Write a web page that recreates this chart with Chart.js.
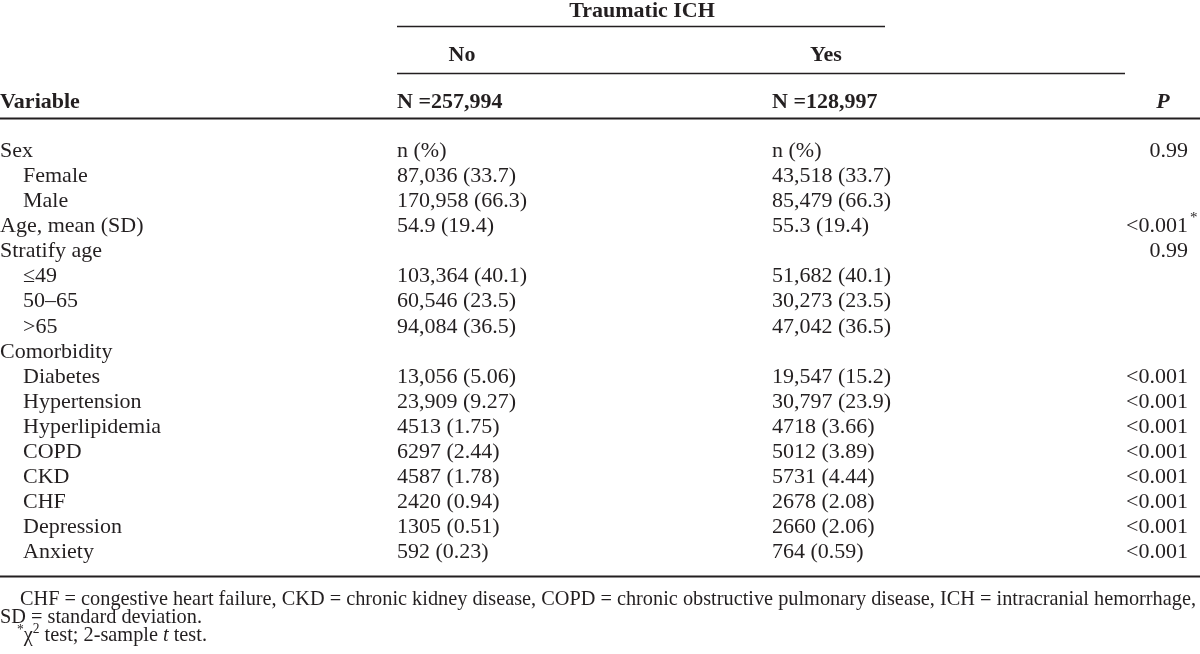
<!DOCTYPE html>
<html>
<head>
<meta charset="utf-8">
<script src="https://cdn.jsdelivr.net/npm/chart.js@4.4.1/dist/chart.umd.min.js"></script>
<style>
  html, body { margin: 0; padding: 0; background: #fff; }
  canvas { display: block; }
</style>
</head>
<body>
<canvas id="table" width="1200" height="654"></canvas>
<script>
// table content
const spanLabel = "Traumatic ICH";
const groupLabels = ["No", "Yes"];
const groupCounts = ["N =257,994", "N =128,997"];
const rowLabels = [
    "Sex", "Female", "Male", "Age, mean (SD)", "Stratify age", "≤49", "50–65", ">65",
    "Comorbidity", "Diabetes", "Hypertension", "Hyperlipidemia", "COPD", "CKD", "CHF",
    "Depression", "Anxiety"
];
const rowIndent = [0, 1, 1, 0, 0, 1, 1, 1, 0, 1, 1, 1, 1, 1, 1, 1, 1];
const noValues = [
    "n (%)", "87,036 (33.7)", "170,958 (66.3)", "54.9 (19.4)", "", "103,364 (40.1)",
    "60,546 (23.5)", "94,084 (36.5)", "", "13,056 (5.06)", "23,909 (9.27)", "4513 (1.75)",
    "6297 (2.44)", "4587 (1.78)", "2420 (0.94)", "1305 (0.51)", "592 (0.23)"
];
const yesValues = [
    "n (%)", "43,518 (33.7)", "85,479 (66.3)", "55.3 (19.4)", "", "51,682 (40.1)",
    "30,273 (23.5)", "47,042 (36.5)", "", "19,547 (15.2)", "30,797 (23.9)", "4718 (3.66)",
    "5012 (3.89)", "5731 (4.44)", "2678 (2.08)", "2660 (2.06)", "764 (0.59)"
];
const pValues = [
    "0.99", "", "", "<0.001", "0.99", "", "", "", "", "<0.001", "<0.001", "<0.001",
    "<0.001", "<0.001", "<0.001", "<0.001", "<0.001"
];
const pMarks = ["", "", "", "*", "", "", "", "", "", "", "", "", "", "", "", "", ""];
const footnotes = [
    "CHF = congestive heart failure, CKD = chronic kidney disease, COPD = chronic obstructive pulmonary disease, ICH = intracranial hemorrhage,",
    "SD = standard deviation."
];

// layout in scale units (x: column position, y: row index)
const COL = { label: 0, indent: 23, no: 397, yes: 772, pRight: 1188, pHead: 1163 };
const ROW = { span: -5.55, group: -3.82, count: -1.95, note1: 17.85, note2: 18.6, note3: 19.32 };
const RULES = [
    { from: 397, to: 885, at: -5.0, width: 1.5 },
    { from: 397, to: 1125, at: -3.12, width: 1.5 },
    { from: 0, to: 1200, at: -1.3, width: 2 },
    { from: 0, to: 1200, at: 16.92, width: 2 }
];

const SERIF = "'Liberation Serif', 'Times New Roman', serif";
const INK = "#231f20";
const SIZE = 22;

const tablePlugin = {
    id: "tableText",
    afterDraw(chart) {
        const ctx = chart.ctx;
        const x = chart.scales.x;
        const y = chart.scales.y;
        const px = (v) => x.getPixelForValue(v);
        const py = (v) => y.getPixelForValue(v);

        ctx.save();
        ctx.fillStyle = INK;
        ctx.strokeStyle = INK;
        ctx.textBaseline = "middle";

        // rules
        RULES.forEach((r) => {
            ctx.lineWidth = r.width;
            ctx.beginPath();
            ctx.moveTo(px(r.from), Math.round(py(r.at)) + 0.5);
            ctx.lineTo(px(r.to), Math.round(py(r.at)) + 0.5);
            ctx.stroke();
        });

        // header
        ctx.font = `bold ${SIZE}px ${SERIF}`;
        ctx.textAlign = "center";
        ctx.fillText(spanLabel, px(642), py(ROW.span));
        ctx.fillText(groupLabels[0], px(462), py(ROW.group));
        ctx.fillText(groupLabels[1], px(826), py(ROW.group));
        ctx.textAlign = "left";
        ctx.fillText("Variable", px(COL.label), py(ROW.count));
        ctx.fillText(groupCounts[0], px(COL.no), py(ROW.count));
        ctx.fillText(groupCounts[1], px(COL.yes), py(ROW.count));
        ctx.font = `italic bold ${SIZE}px ${SERIF}`;
        ctx.textAlign = "center";
        ctx.fillText("P", px(COL.pHead), py(ROW.count));

        // body
        const body = `${SIZE}px ${SERIF}`;
        ctx.font = body;
        rowLabels.forEach((label, i) => {
            const yy = py(i);
            ctx.textAlign = "left";
            ctx.fillText(label, px(rowIndent[i] ? COL.indent : COL.label), yy);
            ctx.fillText(noValues[i], px(COL.no), yy);
            ctx.fillText(yesValues[i], px(COL.yes), yy);
            ctx.textAlign = "right";
            ctx.fillText(pValues[i], px(COL.pRight), yy);
            if (pMarks[i]) {
                ctx.textAlign = "left";
                ctx.font = "15px " + SERIF;
                ctx.fillText(pMarks[i], px(COL.pRight) + 2, yy - 8);
                ctx.font = body;
            }
        });

        // footnotes, set condensed
        const base = "21px " + SERIF;
        const sup = "14px " + SERIF;
        ctx.font = base;
        ctx.textAlign = "left";
        const target = px(1196) - px(20);
        const sx = target / ctx.measureText(footnotes[0]).width;
        const line = (parts, x0, yv) => {
            ctx.save();
            ctx.translate(px(x0), py(yv));
            ctx.scale(sx, 1);
            let cx = 0;
            parts.forEach((p) => {
                ctx.font = p.font;
                ctx.fillText(p.text, cx, p.dy || 0);
                cx += ctx.measureText(p.text).width;
            });
            ctx.restore();
        };
        line([{ text: footnotes[0], font: base }], 20, ROW.note1);
        line([{ text: footnotes[1], font: base }], 0, ROW.note2);
        line([
            { text: "*", font: sup, dy: -6 },
            { text: "χ", font: base },
            { text: "2", font: sup, dy: -7 },
            { text: " test; 2-sample ", font: base },
            { text: "t", font: "italic 21px " + SERIF },
            { text: " test.", font: base }
        ], 17, ROW.note3);

        ctx.restore();
    }
};

new Chart(document.getElementById("table"), {
    type: "scatter",
    data: { datasets: [{ data: [], pointRadius: 0 }] },
    options: {
        responsive: false,
        animation: false,
        devicePixelRatio: 1,
        layout: { padding: 0 },
        plugins: { legend: { display: false }, tooltip: { enabled: false } },
        scales: {
            x: { type: "linear", display: false, min: 0, max: 1200 },
            y: { type: "linear", display: false, reverse: true, min: -6.02, max: 20.04 }
        }
    },
    plugins: [tablePlugin]
});
</script>
</body>
</html>
